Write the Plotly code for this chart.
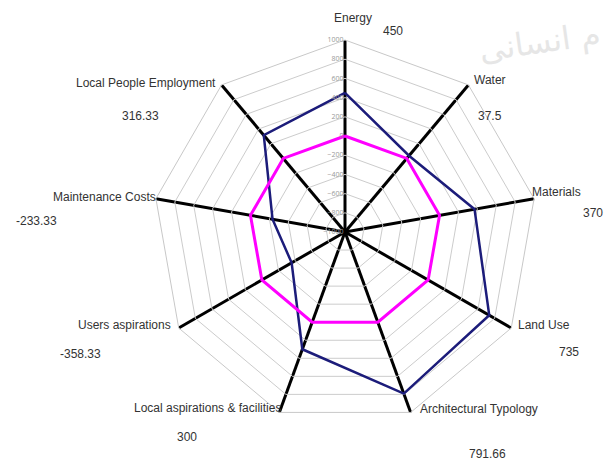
import plotly.graph_objects as go

categories = ["Energy", "Water", "Materials", "Land Use", "Architectural Typology",
              "Local aspirations & facilities", "Users aspirations",
              "Maintenance Costs", "Local People Employment"]
value_labels = ["450", "37.5", "370", "735", "791.66", "300", "-358.33", "-233.33", "316.33"]
scores = [450, 37.5, 370, 735, 791.66, 300, -358.33, -233.33, 316.33]
baseline = [0, 0, 0, 0, 0, 0, 0, 0, 0]
radial_ticks = [-1000, -800, -600, -400, -200, 0, 200, 400, 600, 800, 1000]

W, H = 614, 464
OFF = 8  # page body margin

fig = go.Figure()
fig.add_trace(go.Scatterpolar(
    r=scores + scores[:1], theta=categories + categories[:1], mode="lines+markers",
    line=dict(color="#1c1c7a", width=2.5), marker=dict(color="#1c1c7a", size=6),
    showlegend=False, hoverinfo="skip"))
fig.add_trace(go.Scatterpolar(
    r=baseline + baseline[:1], theta=categories + categories[:1], mode="lines+markers",
    line=dict(color="#ff00ff", width=3), marker=dict(color="#ff00ff", size=5),
    showlegend=False, hoverinfo="skip"))

# (x, y, xanchor) in page pixels for category names and value texts
name_pos = [(353, 18, "center"), (472, 80, "left"), (530, 192, "left"),
            (516, 325, "left"), (418, 409, "left"), (283, 408, "right"),
            (173, 325, "right"), (158, 197, "right"), (218, 83, "right")]
val_pos = [(393, 31, "center"), (490, 116, "center"), (593, 213, "center"),
           (569, 352, "center"), (487, 454, "center"), (187, 437, "center"),
           (80, 354, "center"), (36, 221, "center"), (140, 116, "center")]

FONT = "Liberation Sans, Arial, sans-serif"
anns = []
for txt, (x, y, xa) in list(zip(categories, name_pos)) + list(zip(value_labels, val_pos)):
    anns.append(dict(text=txt, x=(x - OFF) / W, y=1 - (y - OFF) / H,
                     xref="paper", yref="paper", xanchor=xa, yanchor="middle",
                     showarrow=False, font=dict(size=12, color="#333333", family=FONT)))
anns.append(dict(text="م انسانی", x=(540 - OFF) / W, y=1 - (42 - OFF) / H,
                 xref="paper", yref="paper", xanchor="center", yanchor="middle",
                 showarrow=False, textangle=-8,
                 font=dict(size=32, color="#e6e6e6", family="DejaVu Sans")))

cx, cy, R = 345 - OFF, 232 - OFF, 192
fig.update_layout(
    width=W, height=H, paper_bgcolor="white", plot_bgcolor="white",
    margin=dict(l=0, r=0, t=0, b=0),
    annotations=anns,
    polar=dict(
        domain=dict(x=[(cx - R) / W, (cx + R) / W], y=[(H - cy - R) / H, (H - cy + R) / H]),
        bgcolor="white",
        gridshape="linear",
        angularaxis=dict(rotation=90, direction="clockwise", showticklabels=False,
                         ticks="", gridcolor="black", gridwidth=3,
                         linecolor="#c8c8c8", linewidth=1),
        radialaxis=dict(range=[-1000, 1000], tickvals=radial_ticks, angle=90,
                        side="counterclockwise", tickangle=90, showline=False, ticks="",
                        gridcolor="#cccccc", gridwidth=1,
                        tickfont=dict(size=7, color="#999999"))
    ),
)
fig.write_html("out.html")
